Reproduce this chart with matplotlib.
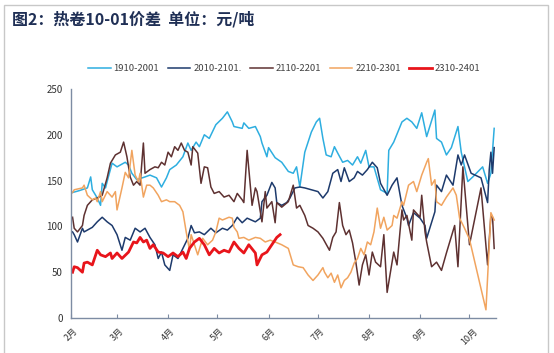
import numpy as np
import pandas as pd
import matplotlib
matplotlib.use("Agg")
import matplotlib.pyplot as plt
import matplotlib.dates as mdates
from matplotlib.patches import Rectangle

plt.rcParams["font.family"] = ["Noto Sans CJK SC", "DejaVu Sans"]
plt.rcParams["axes.unicode_minus"] = False

# 以 2 月 1 日为起点的天数 (季节性图, 年份无意义)
BASE = pd.Timestamp("2023-02-01")

d1910 = [1, 5, 10, 12, 13, 16, 18, 19, 21, 22, 25, 28, 33, 35, 37, 40, 45, 48, 52, 55,
         58, 60, 64, 68, 71, 73, 76, 78, 81, 84, 88, 92, 95, 98, 99, 104, 105, 108, 112, 115,
         116, 119, 120, 124, 128, 132, 135, 137, 139, 142, 146, 149, 151, 153, 155, 158, 160, 162, 165, 168,
         171, 174, 176, 179, 181, 184, 188, 192, 193, 196, 201, 204, 207, 210, 213, 216, 221, 222, 225, 228,
         231, 235, 237, 241, 244, 250, 253, 255, 257]
v1910 = [137, 139, 142, 154, 140, 131, 123, 147, 142, 149, 169, 165, 170, 167, 158, 151, 154, 156, 153, 143,
         153, 162, 167, 176, 191, 183, 192, 187, 200, 196, 211, 218, 225, 214, 209, 207, 213, 207, 209, 198,
         191, 176, 186, 175, 170, 160, 158, 165, 143, 181, 203, 214, 218, 196, 178, 176, 187, 180, 170, 172,
         167, 176, 169, 183, 165, 165, 140, 136, 183, 192, 214, 218, 214, 207, 224, 198, 227, 196, 192, 178,
         186, 209, 181, 149, 154, 165, 147, 158, 207]

d2010 = [1, 2, 4, 7, 8, 13, 16, 19, 22, 25, 28, 31, 33, 36, 39, 42, 45, 48, 51, 53,
         55, 57, 60, 62, 65, 68, 71, 73, 75, 78, 81, 85, 88, 92, 95, 98, 101, 104, 107, 112,
         115, 116, 119, 122, 124, 125, 128, 131, 133, 136, 139, 142, 146, 150, 153, 156, 159, 162, 164, 166,
         169, 172, 174, 177, 180, 183, 186, 188, 192, 195, 198, 201, 204, 205, 208, 212, 215, 216, 221, 222,
         225, 228, 232, 235, 237, 239, 243, 249, 253, 254, 255, 256, 257]
v2010 = [94, 91, 83, 98, 94, 99, 105, 110, 105, 101, 91, 74, 88, 85, 98, 94, 98, 88, 80, 65,
         72, 58, 52, 69, 65, 76, 87, 101, 93, 94, 91, 98, 93, 98, 96, 101, 110, 104, 109, 105,
         109, 127, 134, 148, 142, 126, 123, 126, 131, 142, 143, 142, 140, 138, 131, 138, 158, 162, 149, 164,
         149, 153, 160, 156, 162, 170, 164, 147, 134, 145, 153, 123, 109, 101, 115, 109, 101, 87, 116, 145,
         138, 156, 145, 178, 167, 178, 158, 153, 126, 162, 181, 158, 186]

d2110 = [1, 2, 4, 7, 8, 10, 13, 16, 19, 22, 24, 27, 30, 32, 34, 36, 38, 40, 42, 44,
         45, 48, 51, 53, 55, 57, 59, 61, 63, 65, 67, 69, 71, 73, 74, 77, 79, 81, 83, 85,
         87, 90, 93, 96, 99, 101, 104, 105, 107, 110, 112, 113, 116, 118, 119, 122, 124, 125, 128, 132,
         135, 137, 139, 142, 144, 147, 150, 153, 157, 159, 161, 163, 165, 167, 169, 171, 173, 175, 177, 179,
         181, 183, 185, 188, 190, 192, 195, 196, 198, 201, 202, 204, 207, 208, 212, 213, 215, 216, 219, 222,
         225, 228, 233, 235, 238, 242, 249, 253, 255, 256, 257]
v2110 = [110, 98, 94, 101, 112, 123, 129, 131, 134, 153, 169, 178, 181, 192, 176, 154, 145, 149, 145, 191,
         158, 162, 165, 164, 170, 167, 181, 176, 187, 183, 191, 183, 181, 167, 187, 180, 147, 165, 164, 143,
         136, 138, 132, 134, 127, 136, 129, 126, 183, 123, 142, 138, 105, 138, 120, 127, 104, 126, 121, 127,
         145, 120, 123, 112, 101, 98, 94, 87, 74, 88, 94, 126, 101, 91, 96, 82, 61, 36, 58, 69,
         47, 72, 61, 56, 91, 28, 61, 72, 58, 118, 107, 112, 85, 118, 110, 134, 94, 83, 56, 61,
         52, 71, 101, 56, 165, 80, 142, 58, 112, 110, 76]

d2210 = [1, 2, 7, 8, 10, 13, 15, 16, 18, 19, 22, 25, 27, 28, 31, 33, 35, 37, 39, 41,
         42, 44, 46, 48, 50, 53, 55, 58, 60, 63, 66, 68, 70, 72, 73, 75, 77, 80, 83, 86,
         88, 90, 92, 96, 98, 99, 101, 102, 105, 108, 112, 115, 118, 121, 124, 128, 132, 135, 138, 141,
         144, 147, 150, 153, 154, 156, 158, 160, 162, 164, 166, 168, 170, 172, 174, 176, 178, 180, 182, 184,
         186, 188, 190, 192, 195, 196, 198, 201, 202, 205, 208, 210, 213, 216, 217, 219, 221, 222, 225, 228,
         232, 234, 236, 239, 242, 252, 255, 257]
v2210 = [137, 140, 142, 145, 134, 129, 131, 127, 138, 127, 138, 132, 138, 118, 142, 159, 153, 183, 156, 149,
         158, 132, 145, 145, 142, 134, 127, 129, 127, 127, 123, 116, 94, 74, 91, 80, 69, 87, 80, 85,
         94, 109, 107, 110, 109, 99, 94, 87, 88, 85, 88, 87, 83, 85, 83, 80, 76, 58, 56, 55,
         47, 41, 47, 55, 50, 44, 49, 39, 47, 33, 41, 44, 50, 60, 65, 76, 69, 83, 80, 94,
         120, 98, 110, 96, 101, 112, 109, 127, 123, 145, 149, 138, 156, 170, 174, 145, 151, 127, 123, 132,
         142, 134, 109, 98, 86, 9, 115, 107]

d2310 = [1, 2, 4, 7, 8, 10, 13, 16, 18, 21, 24, 25, 28, 31, 35, 38, 40, 42, 44, 46,
         48, 50, 53, 56, 59, 62, 65, 68, 70, 72, 75, 78, 81, 84, 87, 90, 93, 96, 99, 102,
         105, 108, 112, 113, 116, 119, 122, 125, 127]
v2310 = [50, 56, 55, 50, 60, 61, 58, 74, 69, 67, 71, 65, 71, 65, 72, 83, 82, 88, 83, 85,
         76, 80, 72, 71, 67, 71, 67, 72, 65, 76, 83, 87, 80, 69, 76, 71, 74, 72, 83, 76,
         71, 80, 71, 58, 69, 72, 80, 88, 91]

series = [
    ("1910-2001", d1910, v1910, "#2eaee0", 1.1),
    ("2010-2101.", d2010, v2010, "#1d3a6c", 1.1),
    ("2110-2201", d2110, v2110, "#5e3131", 1.1),
    ("2210-2301", d2210, v2210, "#f1a45f", 1.1),
    ("2310-2401", d2310, v2310, "#e8151b", 2.0),
]

fig = plt.figure(figsize=(5.54, 3.53), dpi=100)
fig.patch.set_facecolor("white")
fig.patches.append(Rectangle((0.007, -0.01), 0.983, 0.996, transform=fig.transFigure,
                             fill=False, edgecolor="#c8c8c8", linewidth=1.0))
fig.text(0.022, 0.945, "图2：热卷10-01价差  单位：元/吨", fontsize=11.5, fontweight="bold",
         color="#1f2f55", va="center", ha="left")

ax = fig.add_axes([0.128, 0.099, 0.767, 0.649])
for name, d, v, c, lw in series:
    x = BASE + pd.to_timedelta(d, unit="D")
    ax.plot(x, v, color=c, linewidth=lw, label=name)

ax.set_ylim(0, 250)
ax.set_yticks(np.arange(0, 251, 50))
ax.set_xlim(BASE, BASE + pd.Timedelta(days=258))
ax.xaxis.set_major_locator(mdates.MonthLocator())
ax.xaxis.set_major_formatter(plt.FuncFormatter(lambda v, p: f"{mdates.num2date(v).month}月"))

for s in ["top", "right"]:
    ax.spines[s].set_visible(False)
for s in ["left", "bottom"]:
    ax.spines[s].set_color("#7d8ca3")
    ax.spines[s].set_linewidth(1.0)
ax.tick_params(axis="y", length=0, labelsize=7, labelcolor="#333333", pad=6)
ax.tick_params(axis="x", direction="in", length=3, color="#7d8ca3", labelsize=6.5,
               labelcolor="#333333", pad=6)
plt.setp(ax.get_xticklabels(), rotation=45, ha="center")

fig.legend(loc="center", bbox_to_anchor=(0.513, 0.805), ncol=5, frameon=False,
           fontsize=6.8, handlelength=2.4, columnspacing=0.9, handletextpad=0.3,
           labelcolor="#404040")

plt.savefig("out.png", dpi=100, facecolor=fig.get_facecolor())
